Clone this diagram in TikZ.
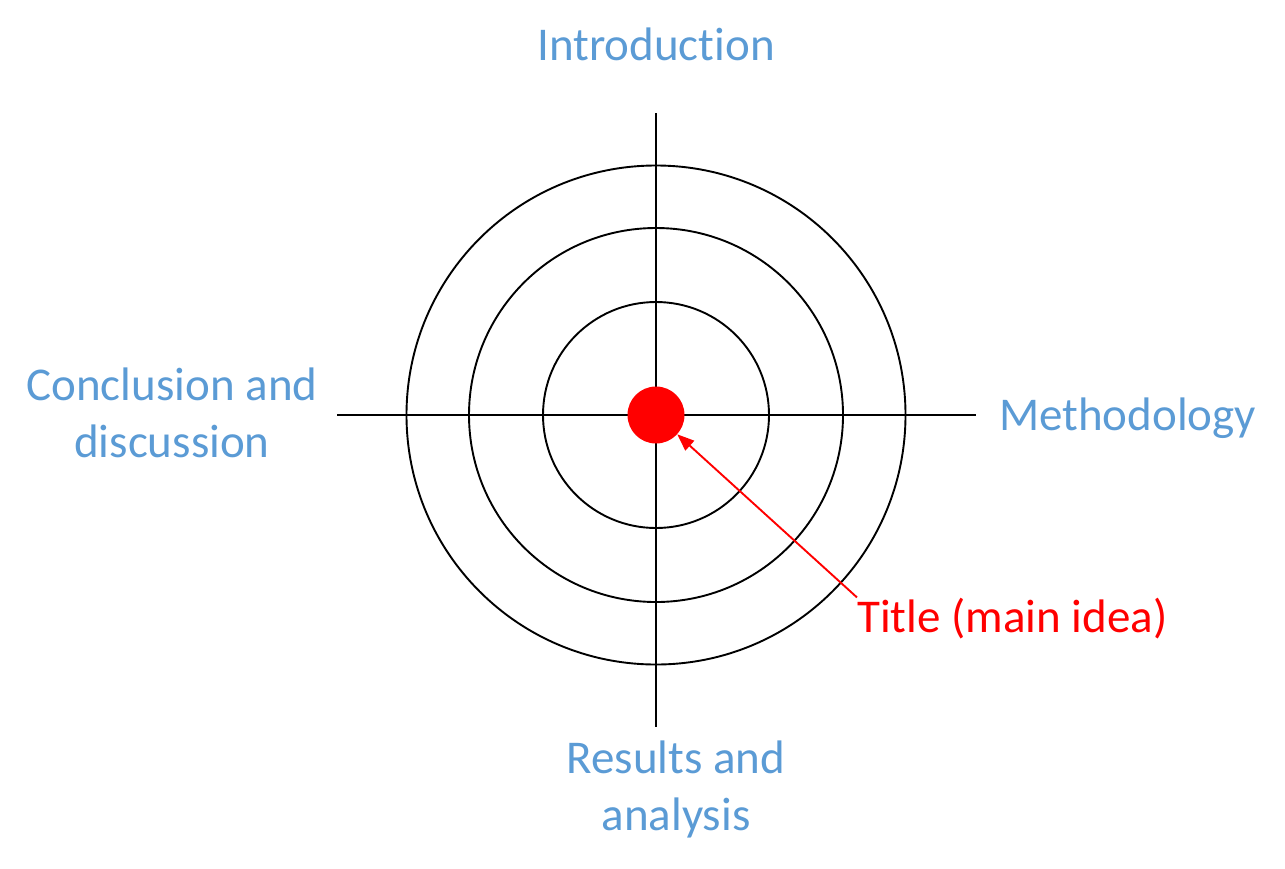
\documentclass[tikz,border=0pt]{standalone}
\usepackage{fontspec}
\setmainfont{Carlito}[RawFeature={-liga,-clig,-dlig}]
\usetikzlibrary{arrows.meta}
\definecolor{lblue}{RGB}{91,155,213}
\begin{document}
\begin{tikzpicture}[x=1pt,y=-1pt,
  ring/.style={draw=black,line width=1.9pt},
  axis/.style={draw=black,line width=1.9pt},
  lab/.style={text=lblue,font=\fontsize{47}{57}\selectfont,align=center,inner sep=0pt},
  redlab/.style={text=red,font=\fontsize{47}{57}\selectfont,inner sep=0pt}]
\useasboundingbox (0,0) rectangle (1285,868);
\coordinate (c) at (656,415);
\draw[ring] (c) circle[radius=249.5];
\draw[ring] (c) circle[radius=187];
\draw[ring] (c) circle[radius=113];
\coordinate (l) at (337,415);
\coordinate (r) at (976,415);
\coordinate (t) at (656,113);
\coordinate (b) at (656,727);
\draw[axis] (l) -- (r);
\draw[axis] (t) -- (b);
\node[circle,fill=red,minimum size=57pt,inner sep=0pt] (dot) at (c) {};
\node[lab,anchor=base] (intro) at (656,60) {Introduction};
\node[lab,anchor=base west] (meth) at (999,430) {Methodology};
\node[lab,anchor=base] (concl) at (172,457) {Conclusion and\\discussion};
\node[lab,anchor=base] (res) at (676,830) {Results and\\analysis};
\node[redlab,anchor=base west] (title) at (857,632) {Title (main idea)};
\draw[red,line width=1.9pt,-{Triangle[length=17pt,width=13pt]}] (title.north west) -- (dot);
\end{tikzpicture}
\end{document}
